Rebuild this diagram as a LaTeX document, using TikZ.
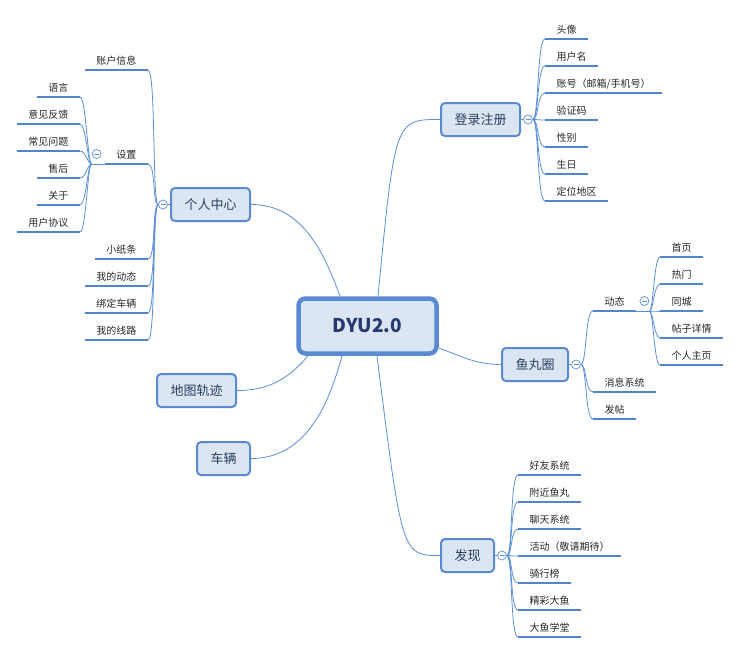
\documentclass[tikz,border=0pt]{standalone}
\usepackage{fontspec}
\setmainfont{Noto Sans CJK SC}
\usetikzlibrary{calc}
\definecolor{linkblue}{HTML}{5B8FD8}
\definecolor{barblue}{HTML}{4F86CF}
\definecolor{boxfill}{HTML}{DCE6F3}
\definecolor{boxline}{HTML}{5A8BD2}
\definecolor{topictext}{HTML}{2B3F5E}
\definecolor{leaftext}{HTML}{262626}
\tikzstyle{branch}=[linkblue,line width=0.8pt]
\tikzstyle{bar}=[barblue,line width=2.8pt]
\tikzstyle{topic}=[draw=boxline,fill=boxfill,line width=2pt,rounded corners=4pt,minimum height=33pt,inner xsep=13.5pt,text=topictext,font=\fontsize{13}{15}\selectfont]
\tikzstyle{leaf}=[inner xsep=11.5pt,inner ysep=3pt,text height=8pt,text depth=2pt,text=leaftext,font=\fontsize{10}{12}\selectfont]
\tikzstyle{fold}=[circle,draw=linkblue,fill=white,line width=0.7pt,minimum size=9pt,inner sep=0pt,
  path picture={\draw[linkblue,line width=0.7pt] ([xshift=-2.5pt]path picture bounding box.center) -- ([xshift=2.5pt]path picture bounding box.center);}]
\begin{document}
\begin{tikzpicture}[x=1pt,y=-1pt]
\useasboundingbox (0,0) rectangle (740,654);
% centre and main topics
\node[topic,line width=4.5pt,rounded corners=7pt,minimum width=138pt,minimum height=55pt,text=topictext!90!blue,font=\fontsize{19}{22}\selectfont\bfseries] (dyu) at (367.5,326) {DYU2.0};
\node[topic] (dl) at (480.5,119.5) {登录注册};
\node[topic] (gr) at (210.5,204.5) {个人中心};
\node[topic] (yw) at (535,364.5) {鱼丸圈};
\node[topic] (dt) at (196.5,390.5) {地图轨迹};
\node[topic] (cl) at (223.5,458.5) {车辆};
\node[topic] (fx) at (467.5,555.5) {发现};
\draw[branch] (gr.east) to[out=0,in=110] ([xshift=-27.5pt]dyu.north);
\draw[branch] ([xshift=10.5pt]dyu.north) .. controls ($(dl.west)+(-45,0)$) .. (dl.west);
\draw[branch] ([yshift=-22pt]dyu.east) to[out=-20,in=180] (yw.west);
\draw[branch] (dt.east) to[out=0,in=-130] ([xshift=-59.5pt]dyu.south);
\draw[branch] (cl.east) to[out=0,in=-105] ([xshift=-25.5pt]dyu.south);
\draw[branch] ([xshift=9.5pt]dyu.south) .. controls ($(fx.west)+(-38,0)$) .. (fx.west);
% 登录注册
\node[fold] (dlc) at ([xshift=7pt]dl.east) {};
\draw[branch] (dl.east) -- (dlc.west);
\foreach \t [count=\i] in {头像,用户名,账号（邮箱/手机号）,验证码,性别,生日,定位地区} {
  \node[leaf,anchor=south west] (dl\i) at (545,12+27*\i) {\t};
  \draw[bar] (dl\i.south west) -- (dl\i.south east);
  \draw[branch] (dlc.east) .. controls +(6,0) and +(-8,0) .. (dl\i.south west);
}
% 个人中心
\node[fold] (grc) at ([xshift=-7pt]gr.west) {};
\draw[branch] (gr.west) -- (grc.east);
\foreach \y/\t [count=\i] in {70/账户信息,164/设置,259/小纸条,286/我的动态,313/绑定车辆,340/我的线路} {
  \node[leaf,anchor=south east] (gr\i) at (148,\y) {\t};
  \draw[bar] (gr\i.south west) -- (gr\i.south east);
  \draw[branch] (grc.west) .. controls +(-6,0) and +(8,0) .. (gr\i.south east);
}
\draw[branch] (gr2.south west) -- ++(-13,0) coordinate (szj);
\foreach \t [count=\i] in {语言,意见反馈,常见问题,售后,关于,用户协议} {
  \node[leaf,anchor=south east] (sz\i) at (80,70+27*\i) {\t};
  \draw[bar] (sz\i.south west) -- (sz\i.south east);
  \draw[branch] (szj) .. controls +(-4,0) and +(6,0) .. (sz\i.south east);
}
\node[fold] (szc) at ([xshift=-8pt,yshift=10pt]gr2.south west) {};
% 鱼丸圈
\node[fold] (ywc) at ([xshift=7pt]yw.east) {};
\draw[branch] (yw.east) -- (ywc.west);
\foreach \y/\t [count=\i] in {311/动态,392/消息系统,419/发帖} {
  \node[leaf,anchor=south west] (yw\i) at (593,\y) {\t};
  \draw[bar] (yw\i.south west) -- (yw\i.south east);
  \draw[branch] (ywc.east) .. controls +(6,0) and +(-8,0) .. (yw\i.south west);
}
\draw[branch] (yw1.south east) -- ++(13,0) coordinate (dyj);
\foreach \t [count=\i] in {首页,热门,同城,帖子详情,个人主页} {
  \node[leaf,anchor=south west] (dyn\i) at (660,230+27*\i) {\t};
  \draw[bar] (dyn\i.south west) -- (dyn\i.south east);
  \draw[branch] (dyj) .. controls +(4,0) and +(-6,0) .. (dyn\i.south west);
}
\node[fold] (dyc) at ([xshift=8pt,yshift=10pt]yw1.south east) {};
% 发现
\node[fold] (fxc) at ([xshift=7pt]fx.east) {};
\draw[branch] (fx.east) -- (fxc.west);
\foreach \t [count=\i] in {好友系统,附近鱼丸,聊天系统,活动（敬请期待）,骑行榜,精彩大鱼,大鱼学堂} {
  \node[leaf,anchor=south west] (fx\i) at (518,448+27*\i) {\t};
  \draw[bar] (fx\i.south west) -- (fx\i.south east);
  \draw[branch] (fxc.east) .. controls +(6,0) and +(-8,0) .. (fx\i.south west);
}
\end{tikzpicture}
\end{document}
